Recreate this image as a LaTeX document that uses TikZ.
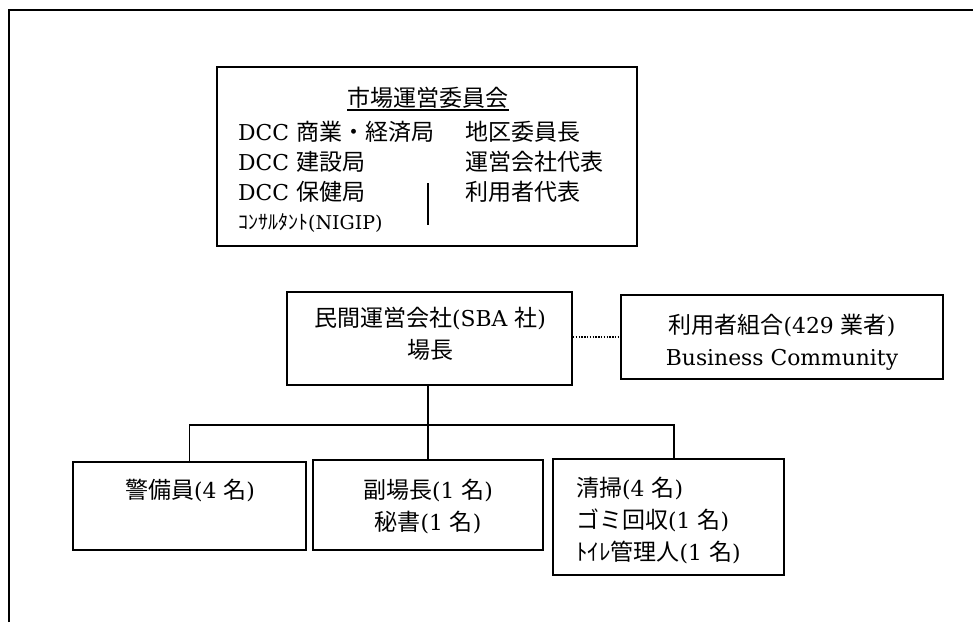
\documentclass[tikz,border=0pt]{standalone}
\usepackage{fontspec}
\setmainfont{DejaVu Serif}[Scale=0.95]
\newfontfamily\jp{Noto Sans CJK JP}
\begin{document}
\begin{tikzpicture}[x=1pt,y=-1pt,
  box/.style={draw, line width=1.8pt, inner sep=0pt, rectangle},
  txt/.style={inner sep=0pt, font=\fontsize{23}{32}\selectfont},
  smalltxt/.style={inner sep=0pt, font=\fontsize{20}{28}\selectfont},
  frameline/.style={line width=2.8pt},
  conn/.style={line width=1.6pt},
  dotconn/.style={line width=1.5pt, dash pattern=on 1.4pt off 1.4pt},
]
\useasboundingbox (0,0) rectangle (973,622);
% outer frame (cut off at right and bottom)
\draw[frameline] (9,622) -- (9,10) -- (973,10);

% committee box
\node[box, minimum width=420pt, minimum height=179pt] (committee) at (427,156.5) {};
\node[txt] (title) at (428,98) {\jp 市場運営委員会};
\coordinate (ul) at (0,110);
\draw[line width=1.2pt] (title.west |- ul) -- (title.east |- ul);
\node[txt, anchor=west] (l1) at (238,132) {DCC {\jp 商業・経済局}};
\node[txt, anchor=west] (l2) at (238,162) {DCC {\jp 建設局}};
\node[txt, anchor=west] (l3) at (238,192) {DCC {\jp 保健局}};
\node[smalltxt, anchor=west] (l4) at (238,223) {{\jp ｺﾝｻﾙﾀﾝﾄ}(NIGIP)};
\node[txt, anchor=west] (r1) at (465,132) {\jp 地区委員長};
\node[txt, anchor=west] (r2) at (465,162) {\jp 運営会社代表};
\node[txt, anchor=west] (r3) at (465,192) {\jp 利用者代表};
\draw[line width=1.8pt] (428,183) -- (428,225);

% operator box
\node[box, minimum width=285pt, minimum height=93pt] (sba) at (429.5,338.5) {};
\node[txt, align=center] (sbatext) at (430,334) {{\jp 民間運営会社}(SBA {\jp 社})\\{\jp 場長}};

% users union box
\node[box, minimum width=322pt, minimum height=84pt] (union) at (782,337) {};
\node[txt, align=center] (uniontext) at (782,342) {{\jp 利用者組合}(429 {\jp 業者})\\Business Community};

% bottom boxes
\node[box, minimum width=233pt, minimum height=88pt] (b1) at (189.5,506) {};
\node[txt] (b1text) at (190,490) {{\jp 警備員}(4 {\jp 名})};
\node[box, minimum width=230pt, minimum height=90pt] (b2) at (428,505) {};
\node[txt, align=center] (b2text) at (428,506) {{\jp 副場長}(1 {\jp 名})\\{\jp 秘書}(1 {\jp 名})};
\node[box, minimum width=231pt, minimum height=116pt] (b3) at (668.5,517) {};
\node[txt, align=left, anchor=west] (b3text) at (576,520.5) {{\jp 清掃}(4 {\jp 名})\\{\jp ゴミ回収}(1 {\jp 名})\\{\jp ﾄｲﾚ管理人}(1 {\jp 名})};

% connectors
\coordinate (bus) at (0,425);
\draw[dotconn] (sba.east |- union.west) -- (union.west);
\draw[conn] (b2.north |- sba.south) -- (b2.north);
\draw[conn] (b1.north) |- ([xshift=5.5pt]b3.north |- bus) -- ([xshift=5.5pt]b3.north);
\end{tikzpicture}
\end{document}
